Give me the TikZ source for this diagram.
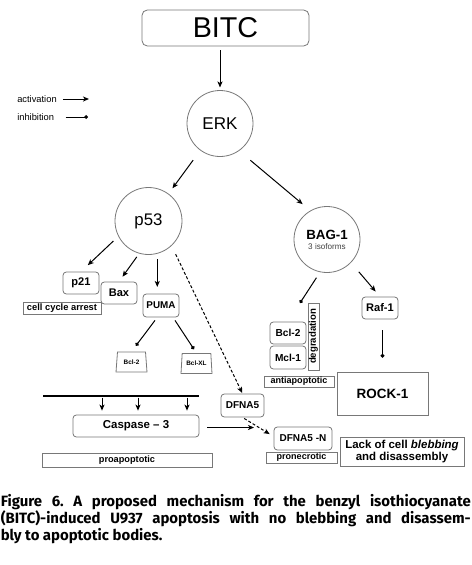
\documentclass[tikz,border=0pt]{standalone}
\usepackage{fontspec}
\setmainfont{Liberation Sans}
\newfontfamily\capfont{Fira Sans}
\usetikzlibrary{arrows.meta,shapes.geometric}
\definecolor{boxgray}{RGB}{120,120,120}
\newcommand\fsz[2]{\fontsize{#1}{#2}\selectfont}
\begin{document}
\begin{tikzpicture}[x=0.75pt,y=-0.75pt,
  box/.style={draw=boxgray, line width=0.6pt, rounded corners=2.5pt, inner sep=0pt, align=center, minimum width=27pt, minimum height=16.5pt, font=\bfseries\fsz{8.3}{9}},
  sqbox/.style={draw=boxgray, line width=0.6pt, inner sep=0pt, align=center},
  circ/.style={circle, draw=boxgray, line width=0.6pt, minimum size=49.5pt, inner sep=0pt, align=center},
  trap/.style={trapezium, trapezium stretches=true, trapezium left angle=80, trapezium right angle=80, draw=boxgray, line width=0.6pt, minimum width=23.25pt, minimum height=15pt, inner sep=0pt, font=\bfseries\fsz{4.8}{5}},
  act/.style={-{Stealth[length=4.5pt,width=3.8pt,inset=1.2pt]}, line width=0.75pt},
  inh/.style={-{Circle[length=2.8pt]}, line width=0.75pt},
  dsh/.style={dash pattern=on 2.2pt off 1.5pt},
]
\useasboundingbox (0,0) rectangle (472,565);
\fill[white] (0,0) rectangle (472,565);

% nodes
\node[box, minimum width=125.25pt, minimum height=27pt, rounded corners=4pt, font=\fsz{21.5}{24}] (BITC) at (225.5,28) {BITC};
\node[circ, font=\fsz{12.8}{14}] (ERK) at (220,123.5) {ERK};
\node[circ, minimum size=50.25pt, font=\fsz{12.6}{14}] (p53) at (148.5,221) {p53};
\node[circ, font=\fsz{6.1}{7}] (BAG) at (327,239.5) {{\bfseries\fsz{10}{10}BAG-1}\\[0.5pt]{\color{darkgray}3 isoforms}};

\node[box] (p21) at (81,283) {p21};
\node[box, fill=white] (Bax) at (119,293) {Bax};
\node[sqbox, minimum width=58.5pt, minimum height=9pt, font=\bfseries\fsz{7}{8}] (cca) at (62,308) {cell cycle arrest};
\node[box, minimum height=17.25pt, font=\bfseries\fsz{7.4}{8}] (PUMA) at (161,305.5) {PUMA};
\node[trap] (tbcl2) at (131.5,362) {Bcl-2};
\node[trap] (tbclxl) at (196.5,363.5) {Bcl-XL};

\node[box, minimum width=94.5pt, font=\bfseries\fsz{8.6}{9}] (casp) at (136,426) {Caspase – 3};
\node[sqbox, minimum width=127.5pt, minimum height=10.5pt, font=\bfseries\fsz{6.9}{8}] (proapo) at (127,460) {proapoptotic};

\node[box, minimum width=32.25pt, minimum height=17.25pt, font=\bfseries\fsz{7.5}{8}] (DFNA) at (242.5,405.5) {DFNA5};
\node[box, minimum width=43.5pt, minimum height=17.25pt, font=\bfseries\fsz{7.5}{8}] (DFNAN) at (303,438.5) {DFNA5 -N};
\node[sqbox, minimum width=53.25pt, minimum height=8.25pt, font=\bfseries\fsz{6.8}{7}] (pronec) at (301.5,457.5) {pronecrotic};
\node[sqbox, minimum width=93pt, minimum height=21.75pt, font=\bfseries\fsz{8.6}{9.5}] (lack) at (402,451.5) {Lack of cell \textit{blebbing}\\and disassembly};

\node[sqbox, minimum width=68.25pt, minimum height=32.25pt, font=\bfseries\fsz{10.1}{11}] (ROCK) at (382.5,393.5) {ROCK-1};
\node[box] (Raf) at (380,308) {Raf-1};
\node[box, font=\bfseries\fsz{7.6}{8}] (rbcl2) at (288,333) {Bcl-2};
\node[box, minimum height=17.25pt, font=\bfseries\fsz{7.6}{8}] (mcl1) at (288,357.5) {Mcl-1};
\node[sqbox, rotate=90, minimum width=50.25pt, minimum height=8.25pt, font=\bfseries\fsz{7.2}{8}] (degr) at (313.5,336.5) {degradation};
\node[sqbox, minimum width=52.5pt, minimum height=8.25pt, font=\bfseries\fsz{6.8}{7}] (antiapo) at (299,381.5) {antiapoptotic};

% legend
\node[anchor=west, inner sep=0pt, font=\fsz{7}{8}] (lact) at (17,99) {activation};
\node[anchor=west, inner sep=0pt, font=\fsz{7}{8}] (linh) at (17,117) {inhibition};
\coordinate (lactE) at (89,99);
\coordinate (linhE) at (88,117);
\draw[act, shorten <=4.5pt] (lact.east) -- (lactE);
\draw[inh, shorten <=8.5pt] (linh.east) -- (linhE);

% connectors
\draw[act, shorten <=3pt, shorten >=2pt] (BITC.south -| ERK) -- (ERK.north);
\draw[act, shorten <=9pt, shorten >=5pt] (ERK) -- (p53);
\draw[act, shorten <=11pt, shorten >=7.5pt] (ERK.-55) -- (BAG.120);

\draw[act, shorten <=5pt, shorten >=7pt] (p53.207) -- (p21.north);
\draw[act, shorten <=3pt, shorten >=4.5pt] (p53.254) -- (Bax.north);
\draw[act, shorten <=4pt, shorten >=5pt] (p53.-75) -- (p53.-75 |- PUMA.north);
\draw[act, dsh, shorten <=7pt, shorten >=0.5pt] (p53.-47) -- (DFNA.north);

\draw[inh, shorten >=5.5pt] ([xshift=-4.5pt,yshift=-2.25pt]PUMA.south) -- (tbcl2.north);
\draw[inh, shorten >=3.5pt] ([xshift=10.5pt,yshift=-2.25pt]PUMA.south) -- (tbclxl.north);

\coordinate (barL) at (43,396);
\coordinate (barR) at (199,396);
\draw[line width=1.3pt] (barL) -- (barR);
\coordinate (b1) at (102,397.5);
\coordinate (b2) at (138,397.5);
\coordinate (b3) at (187,397.5);
\foreach \b in {b1,b2,b3} \draw[act, shorten >=3pt] (\b) -- (\b |- casp.north);

\coordinate (caspE) at (254,427.5);
\draw[act, shorten <=6pt] (casp.east |- caspE) -- (caspE);
\draw[act, dsh, shorten <=1.5pt, shorten >=3.5pt] (DFNA.south) -- ([yshift=1.5pt]DFNAN.west);

\coordinate (bagdot) at (300,303);
\draw[inh, shorten <=5pt] (BAG.258) -- (bagdot);
\draw[act, shorten <=9pt, shorten >=5pt] (BAG.-44) -- (Raf.north);
\draw[inh, shorten <=8pt, shorten >=10.5pt] (ROCK.north |- Raf.south) -- (ROCK.north);

% caption
\node[anchor=north west, inner sep=0pt, text width=352.5pt, align=justify, font=\capfont\bfseries\fsz{11.2}{12.6}\frenchspacing] (cap) at (0.5,494.5) {Figure 6. A proposed mechanism for the benzyl isothiocyanate\linebreak (BITC)-induced U937 apoptosis with no blebbing and disassem-\linebreak bly to apoptotic bodies.};
\end{tikzpicture}
\end{document}
